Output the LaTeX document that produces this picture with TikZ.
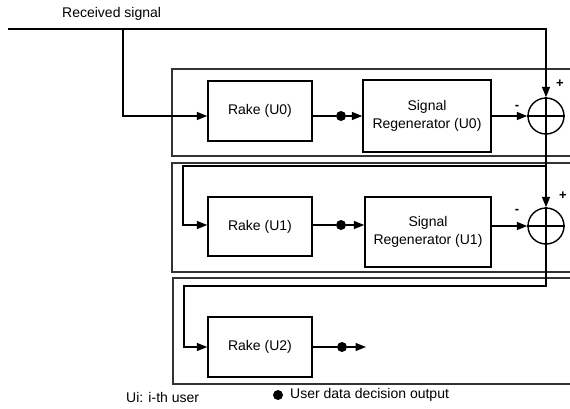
\documentclass[tikz,border=0pt]{standalone}
\usepackage{fontspec}
\setmainfont{Liberation Sans}
\usetikzlibrary{arrows.meta,calc}
\begin{document}
\begin{tikzpicture}[x=1pt,y=-1pt,
  wire/.style={line width=1.4pt},
  arr/.style={wire,-{Triangle[length=10.5pt,width=8pt]}},
  panel/.style={line width=1.3pt,draw=black!80},
  blk/.style={draw,line width=1.4pt,rectangle,align=center,inner sep=0pt,font=\fontsize{14}{18}\selectfont},
  sumc/.style={draw,circle,line width=1.4pt,minimum size=36pt,inner sep=0pt},
  dec/.style={circle,fill=black,minimum size=10pt,inner sep=0pt},
  lbl/.style={font=\fontsize{14}{16}\selectfont,inner sep=0pt},
  sgn/.style={font=\bfseries\fontsize{13}{15}\selectfont,inner sep=0pt}]
\useasboundingbox (0,0) rectangle (570,408);
% panels (open on the right)
\draw[panel] (571,69) -- (172,69) -- (172,156) -- (571,156);
\draw[panel] (571,163) -- (172,163) -- (172,272) -- (571,272);
\draw[panel] (571,278) -- (173,278) -- (173,384) -- (571,384);
% blocks
\node[blk,minimum width=104pt,minimum height=60pt] (rake0) at (260,111) {Rake (U0)};
\node[blk,minimum width=128pt,minimum height=72pt] (sr0) at (427,116) {Signal\\Regenerator (U0)};
\node[blk,minimum width=104pt,minimum height=59pt] (rake1) at (260,226.5) {Rake (U1)};
\node[blk,minimum width=126pt,minimum height=70pt] (sr1) at (428,232) {Signal\\Regenerator (U1)};
\node[blk,minimum width=104pt,minimum height=60pt] (rake2) at (260,347) {Rake (U2)};
% summing junctions
\node[sumc] (s0) at (546,116) {};
\draw[line width=1.2pt] (s0.north) -- (s0.south) (s0.west) -- (s0.east);
\node[sumc] (s1) at (546,226) {};
\draw[line width=1.2pt] (s1.north) -- (s1.south) (s1.west) -- (s1.east);
\node[sgn] at (560,84) {+};
\node[sgn] at (517,107) {-};
\node[sgn] at (563,196) {+};
\node[sgn] at (517,211) {-};
% input
\node[lbl,anchor=west] (rx) at (62,14) {Received signal};
\coordinate (in) at (8,29);
\coordinate (tap) at (123,29);
\coordinate (c0) at (123,116);
\draw[arr] (in) -| (s0.north);
\draw[arr] (tap) -- (c0) -- (c0 -| rake0.west);
% user 0 chain
\coordinate (y0) at (0,116);
\node[dec] (d0) at (341,116) {};
\draw[wire] (rake0.east |- y0) -- (d0);
\draw[arr] (d0) -- (sr0.west);
\draw[arr] (sr0.east) -- (s0.west);
% residual 0
\draw[arr] (s0.south) -- (s1.north);
\coordinate (b0) at (546,166);
\coordinate (b0l) at (183,166);
\coordinate (b0d) at (183,225);
\draw[arr] (b0) -- (b0l) -- (b0d) -- (b0d -| rake1.west);
% user 1 chain
\node[dec] (d1) at (341,225) {};
\draw[wire] (rake1.east |- d1) -- (d1);
\draw[arr] (d1) -- (d1 -| sr1.west);
\draw[arr] (sr1.east |- s1) -- (s1.west);
% residual 1
\coordinate (b1) at (546,286);
\coordinate (b1l) at (184,286);
\coordinate (b1d) at (184,347);
\draw[arr] (s1.south) -- (b1) -- (b1l) -- (b1d) -- (b1d -| rake2.west);
% user 2 chain
\node[dec] (d2) at (342,347) {};
\coordinate (out2) at (366,347);
\draw[wire] (rake2.east |- d2) -- (d2);
\draw[arr] (d2) -- (out2);
% legend
\node[lbl,anchor=west] (leg1) at (126,397) {Ui: i-th user};
\node[dec] (legd) at (278,395) {};
\node[lbl,anchor=west] (leg2) at (290,395) {User data decision output};
\end{tikzpicture}
\end{document}
